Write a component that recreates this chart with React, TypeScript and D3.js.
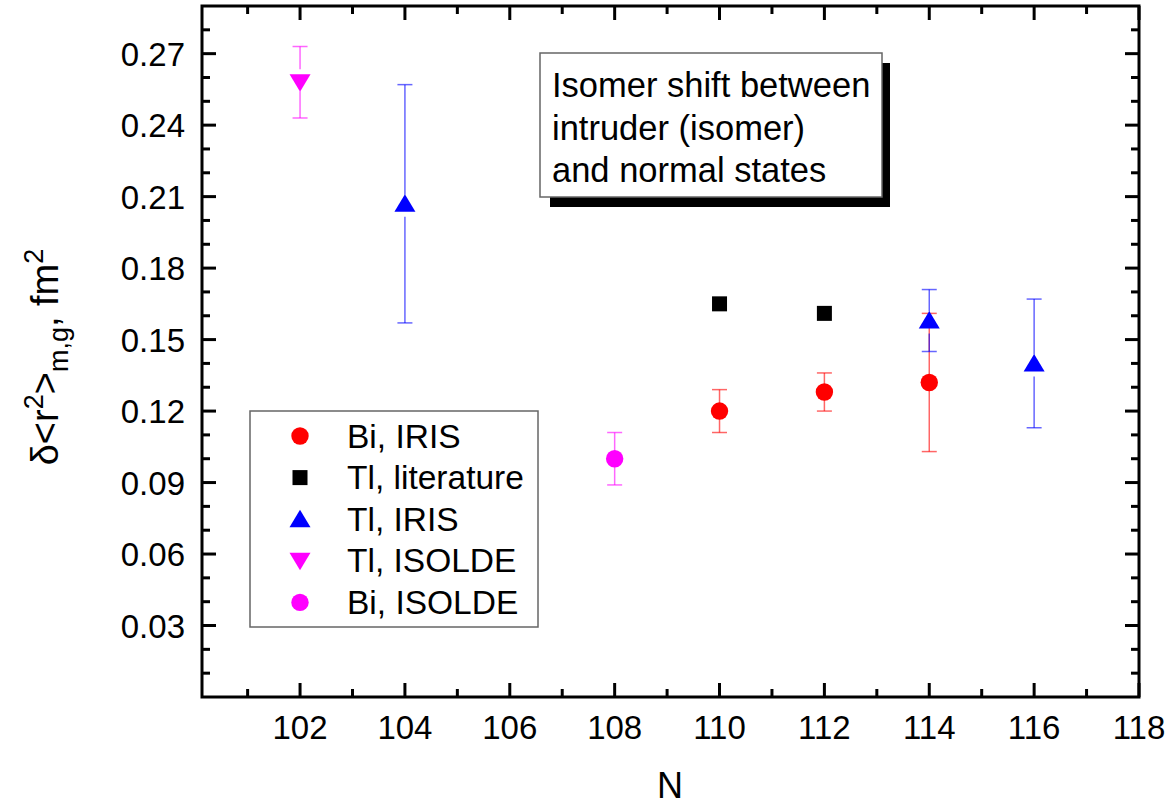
import React from "react";
import * as d3 from "d3";

const W = 1173;
const H = 807;
const M = { left: 202, right: 1139, top: 6, bottom: 697 };

const xDomain = [100.13, 118];
const yDomain = [0, 0.29];
const xTickValues = [102, 104, 106, 108, 110, 112, 114, 116, 118];
const xMinorValues = [101, 103, 105, 107, 109, 111, 113, 115, 117];
const yTickValues = [0.03, 0.06, 0.09, 0.12, 0.15, 0.18, 0.21, 0.24, 0.27];
const yMinorValues = [0.01, 0.02, 0.04, 0.05, 0.07, 0.08, 0.1, 0.11, 0.13, 0.14, 0.16, 0.17, 0.19, 0.2, 0.22, 0.23, 0.25, 0.26, 0.28];

// Series
const biIrisN = [110, 112, 114];
const biIrisV = [0.12, 0.128, 0.132];
const biIrisE = [0.009, 0.008, 0.029];

const tlLitN = [110, 112];
const tlLitV = [0.165, 0.161];

const tlIrisN = [104, 114, 116];
const tlIrisV = [0.207, 0.158, 0.14];
const tlIrisE = [0.05, 0.013, 0.027];

const tlIsoldeN = [102];
const tlIsoldeV = [0.258];
const tlIsoldeE = [0.015];

const biIsoldeN = [108];
const biIsoldeV = [0.1];
const biIsoldeE = [0.011];

const legendLabels = ["Bi, IRIS", "Tl, literature", "Tl, IRIS", "Tl, ISOLDE", "Bi, ISOLDE"];
const noteLines = ["Isomer shift between", "intruder (isomer)", "and normal states"];

const FONT = "'Liberation Sans', Arial, Helvetica, sans-serif";

type Shape = "circle" | "square" | "up" | "down";

function Marker({ shape, x, y, color }: { shape: Shape; x: number; y: number; color: string }) {
  if (shape === "circle") return <circle cx={x} cy={y} r={8.7} fill={color} />;
  if (shape === "square") return <rect x={x - 7.5} y={y - 7.5} width={15} height={15} fill={color} />;
  if (shape === "up")
    return <path d={`M${x},${y - 9.5} L${x + 10.5},${y + 8} L${x - 10.5},${y + 8} Z`} fill={color} />;
  return <path d={`M${x},${y + 9.5} L${x + 10.5},${y - 8} L${x - 10.5},${y - 8} Z`} fill={color} />;
}

function gaps(shape: Shape): [number, number] {
  if (shape === "up") return [9, 13];
  if (shape === "down") return [13, 9];
  return [0, 0];
}

export default function App() {
  const x = d3.scaleLinear().domain(xDomain).range([M.left, M.right]);
  const y = d3.scaleLinear().domain(yDomain).range([M.bottom, M.top]);

  const series = [
    { n: biIrisN, v: biIrisV, e: biIrisE, shape: "circle" as Shape, color: "#ff0000", err: "rgba(255,0,0,0.6)" },
    { n: tlLitN, v: tlLitV, e: null as number[] | null, shape: "square" as Shape, color: "#000000", err: "#000" },
    { n: tlIrisN, v: tlIrisV, e: tlIrisE, shape: "up" as Shape, color: "#0000ff", err: "rgba(0,0,255,0.6)" },
    { n: tlIsoldeN, v: tlIsoldeV, e: tlIsoldeE, shape: "down" as Shape, color: "#ff00ff", err: "rgba(255,0,255,0.6)" },
    { n: biIsoldeN, v: biIsoldeV, e: biIsoldeE, shape: "circle" as Shape, color: "#ff00ff", err: "rgba(255,0,255,0.6)" },
  ];

  const cap = 7.5;
  const tickMaj = 14;
  const tickMin = 8;
  const axisW = 3;

  return (
    <svg width={W} height={H} style={{ position: "absolute", left: 0, top: 0, background: "#fff" }} fontFamily={FONT}>
      <rect x={0} y={0} width={W} height={H} fill="#fff" />

      {/* error bars */}
      {series.map((s, si) =>
        s.e
          ? s.n.map((n, i) => {
              const cx = x(n);
              const cy = y(s.v[i]);
              const yt = y(s.v[i] + s.e![i]);
              const yb = y(s.v[i] - s.e![i]);
              const [ga, gb] = gaps(s.shape);
              return (
                <g key={`e${si}-${i}`} stroke={s.err} strokeWidth={1.5}>
                  <line x1={cx} x2={cx} y1={yt} y2={cy - ga} />
                  <line x1={cx} x2={cx} y1={cy + gb} y2={yb} />
                  <line x1={cx - cap} x2={cx + cap} y1={yt} y2={yt} />
                  <line x1={cx - cap} x2={cx + cap} y1={yb} y2={yb} />
                </g>
              );
            })
          : null
      )}

      {/* markers */}
      {series.map((s, si) =>
        s.n.map((n, i) => <Marker key={`m${si}-${i}`} shape={s.shape} x={x(n)} y={y(s.v[i])} color={s.color} />)
      )}

      {/* ticks */}
      <g stroke="#000" strokeWidth={axisW}>
        {xTickValues.map((t) => (
          <g key={`xt${t}`}>
            <line x1={x(t)} x2={x(t)} y1={M.bottom} y2={M.bottom - tickMaj} />
            <line x1={x(t)} x2={x(t)} y1={M.top} y2={M.top + tickMaj} />
          </g>
        ))}
        {xMinorValues.map((t) => (
          <g key={`xm${t}`}>
            <line x1={x(t)} x2={x(t)} y1={M.bottom} y2={M.bottom - tickMin} />
            <line x1={x(t)} x2={x(t)} y1={M.top} y2={M.top + tickMin} />
          </g>
        ))}
        {yTickValues.map((t) => (
          <g key={`yt${t}`}>
            <line x1={M.left} x2={M.left + tickMaj} y1={y(t)} y2={y(t)} />
            <line x1={M.right} x2={M.right - tickMaj} y1={y(t)} y2={y(t)} />
          </g>
        ))}
        {yMinorValues.map((t) => (
          <g key={`ym${t}`}>
            <line x1={M.left} x2={M.left + tickMin} y1={y(t)} y2={y(t)} />
            <line x1={M.right} x2={M.right - tickMin} y1={y(t)} y2={y(t)} />
          </g>
        ))}
      </g>

      {/* frame */}
      <rect
        x={M.left}
        y={M.top}
        width={M.right - M.left}
        height={M.bottom - M.top}
        fill="none"
        stroke="#000"
        strokeWidth={axisW}
      />

      {/* tick labels */}
      {xTickValues.map((t) => (
        <text key={`xl${t}`} x={x(t)} y={739} textAnchor="middle" fontSize={33} fill="#000">
          {t}
        </text>
      ))}
      {yTickValues.map((t) => (
        <text key={`yl${t}`} x={185} y={y(t) + 12} textAnchor="end" fontSize={33} fill="#000">
          {d3.format(".2f")(t)}
        </text>
      ))}

      {/* axis titles */}
      <text x={670} y={798} textAnchor="middle" fontSize={36} fill="#000">
        N
      </text>
      <text transform="translate(58,357) rotate(-90)" textAnchor="middle" fontSize={38} fill="#000">
        <tspan>δ&lt;r</tspan>
        <tspan fontSize={27} dy={-15}>2</tspan>
        <tspan dy={15}>&gt;</tspan>
        <tspan fontSize={27} dy={10}>m,g</tspan>
        <tspan dy={-10}>, fm</tspan>
        <tspan fontSize={27} dy={-15}>2</tspan>
      </text>

      {/* legend */}
      <rect x={250} y={411} width={288} height={216} fill="#fff" stroke="#666" strokeWidth={1.5} />
      {legendLabels.map((lab, i) => {
        const ly = 436 + i * 41.6;
        const s = series[i];
        return (
          <g key={`lg${i}`}>
            <Marker shape={s.shape} x={300} y={ly} color={s.color} />
            <text x={347} y={ly + 11.5} fontSize={33.5} fill="#000">
              {lab}
            </text>
          </g>
        );
      })}

      {/* note box */}
      <rect x={550} y={63} width={340} height={144} fill="#000" />
      <rect x={540} y={53} width={342} height={144} fill="#fff" stroke="#666" strokeWidth={1.5} />
      {noteLines.map((l, i) => (
        <text key={`nl${i}`} x={552} y={97 + i * 42.5} fontSize={34.5} fill="#000">
          {l}
        </text>
      ))}
    </svg>
  );
}
